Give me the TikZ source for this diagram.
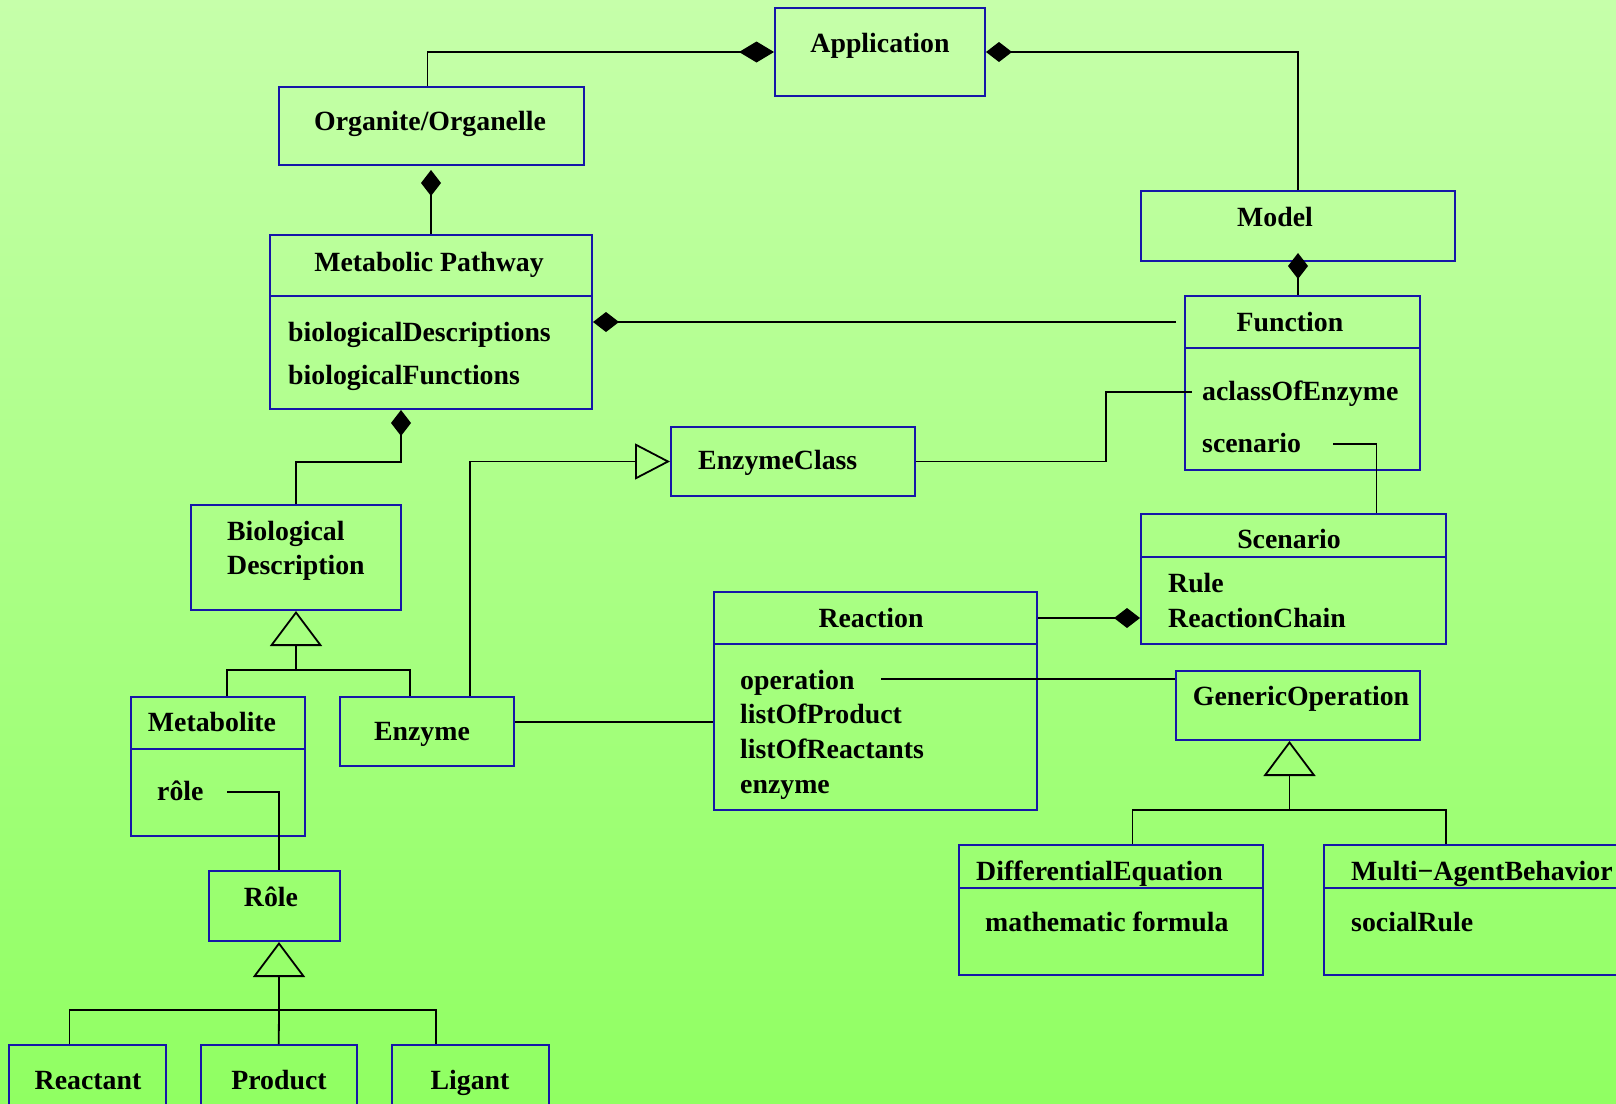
\documentclass[tikz,border=0pt]{standalone}
\usepackage{fontspec}
\setmainfont{Liberation Serif}
\usetikzlibrary{arrows.meta,calc}
\definecolor{bgtop}{RGB}{198,255,170}
\definecolor{bgbot}{RGB}{144,255,98}
\definecolor{boxblue}{RGB}{22,22,168}
\tikzset{
  cls/.style={draw=boxblue, line width=2pt, inner sep=0pt},
  lbl/.style={inner sep=0pt, anchor=mid, yshift=-4pt, font=\fontsize{27.8}{33}\selectfont\bfseries},
  attr/.style={lbl, anchor=mid west},
  link/.style={draw=black, line width=1.8pt},
  comp/.style={link, -{Diamond[length=26pt,width=20pt]}},
  compl/.style={link, -{Diamond[length=35pt,width=21pt]}},
  gen/.style={link, -{Triangle[open,length=35pt,width=52pt]}},
  genx/.style={link, -{Triangle[open,length=35pt,width=36pt]}},
}

\begin{document}
\begin{tikzpicture}[x=1pt,y=-1pt]
  \useasboundingbox (0,0) rectangle (1616,1103);
  \clip (0,0) rectangle (1616,1103);
  \shade[top color=bgtop, bottom color=bgbot] (0,0) rectangle (1616,1103);

  %Boxes
  \node[cls, minimum width=210pt, minimum height=88pt] (app) at (880,52) {};
  \node[cls, minimum width=305pt, minimum height=78pt] (org) at (431.5,126) {};
  \node[cls, minimum width=314pt, minimum height=70pt] (model) at (1298,226) {};
  \node[cls, minimum width=322pt, minimum height=61pt] (pw-h) at (431,265.5) {};
  \node[cls, minimum width=322pt, minimum height=113pt] (pw-b) at (431,352.5) {};
  \node[cls, minimum width=235pt, minimum height=52pt] (func-h) at (1302.5,322) {};
  \node[cls, minimum width=235pt, minimum height=122pt] (func-b) at (1302.5,409) {};
  \node[cls, minimum width=243.5pt, minimum height=69pt] (ecls) at (792.75,461.5) {};
  \node[cls, minimum width=210pt, minimum height=105pt] (bio) at (296,557.5) {};
  \node[cls, minimum width=305pt, minimum height=43pt] (scen-h) at (1293.5,535.5) {};
  \node[cls, minimum width=305pt, minimum height=87pt] (scen-b) at (1293.5,600.5) {};
  \node[cls, minimum width=323pt, minimum height=52pt] (reac-h) at (875.5,618) {};
  \node[cls, minimum width=323pt, minimum height=166pt] (reac-b) at (875.5,727) {};
  \node[cls, minimum width=174pt, minimum height=52pt] (mtb-h) at (218,723) {};
  \node[cls, minimum width=174pt, minimum height=87pt] (mtb-b) at (218,792.5) {};
  \node[cls, minimum width=174pt, minimum height=69pt] (enz) at (427,731.5) {};
  \node[cls, minimum width=244pt, minimum height=69pt] (gop) at (1298,705.5) {};
  \node[cls, minimum width=131pt, minimum height=70pt] (role) at (274.5,906) {};
  \node[cls, minimum width=304pt, minimum height=43pt] (deq-h) at (1111,866.5) {};
  \node[cls, minimum width=304pt, minimum height=87pt] (deq-b) at (1111,931.5) {};
  \node[cls, minimum width=316pt, minimum height=43pt] (mab-h) at (1482,866.5) {};
  \node[cls, minimum width=316pt, minimum height=87pt] (mab-b) at (1482,931.5) {};
  \node[cls, minimum width=157pt, minimum height=80pt] (react) at (87.5,1085) {};
  \node[cls, minimum width=156.5pt, minimum height=80pt] (prod) at (278.75,1085) {};
  \node[cls, minimum width=157pt, minimum height=80pt] (lig) at (470.5,1085) {};

  %Texts
  \node[lbl] (t-app) at (880,46) {Application};
  \node[lbl] (t-org) at (430,124) {Organite/Organelle};
  \node[lbl] (t-model) at (1275,220) {Model};
  \node[lbl] (t-pw) at (429,265) {Metabolic Pathway};
  \node[attr] (a-bdesc) at (288,335) {biologicalDescriptions};
  \node[attr] (a-bfun) at (288,378) {biologicalFunctions};
  \node[lbl] (t-func) at (1290,325) {Function};
  \node[attr] (a-acl) at (1202,394) {aclassOfEnzyme};
  \node[attr] (a-scen) at (1202,446) {scenario};
  \node[attr] (t-ecls) at (698,463) {EnzymeClass};
  \node[attr] (t-bio1) at (227,534) {Biological};
  \node[attr] (t-bio2) at (227,568) {Description};
  \node[lbl] (t-scen) at (1289,542) {Scenario};
  \node[attr] (a-rule) at (1168,586) {Rule};
  \node[attr] (a-rch) at (1168,621) {ReactionChain};
  \node[lbl] (t-reac) at (871,621) {Reaction};
  \node[attr] (a-op) at (740,683) {operation};
  \node[attr] (a-lp) at (740,717) {listOfProduct};
  \node[attr] (a-lr) at (740,752) {listOfReactants};
  \node[attr] (a-enz) at (740,787) {enzyme};
  \node[lbl] (t-mtb) at (212,725) {Metabolite};
  \node[attr] (a-role) at (157,794) {rôle};
  \node[lbl] (t-enz) at (422,734) {Enzyme};
  \node[lbl] (t-gop) at (1301,699) {GenericOperation};
  \node[lbl] (t-role) at (271,900) {Rôle};
  \node[attr] (t-deq) at (976,874) {DifferentialEquation};
  \node[attr] (a-math) at (985,925) {mathematic formula};
  \node[attr] (t-mab) at (1351,874) {Multi−AgentBehavior};
  \node[attr] (a-soc) at (1351,925) {socialRule};
  \node[lbl] (t-react) at (88,1083) {Reactant};
  \node[lbl] (t-prod) at (279,1083) {Product};
  \node[lbl] (t-lig) at (470,1083) {Ligant};

  %Compositions
  \draw[compl] ($(org.north)+(-4,0)$) |- (app.west);
  \draw[comp] (model.north) |- (app.east);
  \draw[comp, shorten >=4pt] (pw-h.north) -- (pw-h.north |- org.south);
  \draw[comp, shorten >=-9pt] (func-h.north -| model.south) -- (model.south);
  \coordinate (fstub) at (1176,322);
  \draw[comp] (fstub) -- (pw-h.east |- fstub);
  \coordinate (mj) at (401,462);
  \draw[comp] (bio.north) |- (mj) -- (mj |- pw-b.south);
  \draw[comp] (reac-h.east) -- (reac-h.east -| scen-b.west);

  %Associations
  \coordinate (astub) at (1192,392);
  \draw[link] (astub) -| (1106,430) |- (ecls.east);
  \coordinate (sstub) at (1333,444);
  \draw[link] (sstub) -| ($(scen-h.north)+(83,0)$);
  \coordinate (rlink) at (600,722);
  \draw[link] (enz.east |- rlink) -- (reac-b.west |- rlink);
  \coordinate (ostub) at (881,679);
  \draw[link] (ostub) -- (gop.west |- ostub);
  \coordinate (rstub) at (227,792);
  \draw[link] (rstub) -| ($(role.north)+(4.5,0)$);

  %Generalizations
  \coordinate (ej) at (470,462);
  \draw[genx] (enz.north -| ej) |- (ecls.west);
  \coordinate (bj) at (296,670);
  \draw[gen] (bj) -- (bio.south);
  \draw[link] ($(mtb-h.north)+(9,0)$) |- (bj) -| ($(enz.north)+(-17,0)$);
  \coordinate (rj) at (279,1010);
  \draw[gen] (rj) -- ($(role.south)+(4.5,0)$);
  \draw[link] ($(react.north)+(-18,0)$) |- (rj) -| ($(lig.north)+(-34.5,0)$);
  \draw[link] (rj) -- (prod.north);
  \coordinate (gj) at (1289.5,810);
  \draw[gen] (gj) -- (gop.south -| gj);
  \draw[link] ($(deq-h.north)+(21.5,0)$) |- (gj) -| ($(mab-h.north)+(-36,0)$);
\end{tikzpicture}
\end{document}
